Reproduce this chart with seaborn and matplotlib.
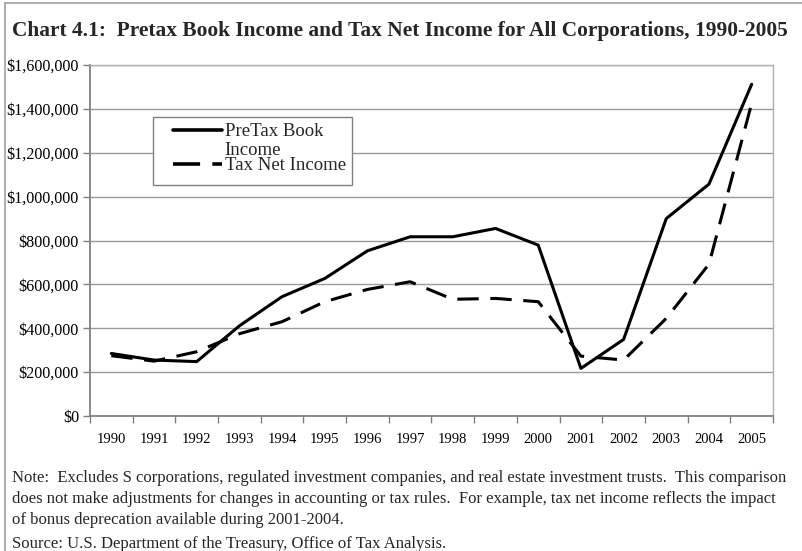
import matplotlib
matplotlib.use("Agg")
import matplotlib.pyplot as plt
from matplotlib.lines import Line2D
from matplotlib.patches import Rectangle
from matplotlib.legend_handler import HandlerLine2D
from matplotlib.ticker import FuncFormatter, FixedLocator, NullFormatter
import numpy as np
import seaborn as sns
import pandas as pd

years = [str(y) for y in range(1990, 2006)]
pretax_book_income = [285000, 255000, 248000, 411000, 544000, 627000, 753000, 817000,
                      817000, 855000, 779000, 217000, 349000, 900000, 1057000, 1512000]
tax_net_income = [275000, 250000, 293000, 375000, 430000, 521000, 577000, 612000,
                  532000, 536000, 521000, 273000, 255000, 445000, 692000, 1425000]
series_names = ["PreTax Book\nIncome", "Tax Net Income"]

df = pd.DataFrame({
    "pos": list(range(len(years))) * 2,
    "value": pretax_book_income + tax_net_income,
    "series": [series_names[0]] * len(years) + [series_names[1]] * len(years),
})

sns.set_theme(style="white")
plt.rcParams["font.family"] = ["Liberation Serif", "DejaVu Serif"]

W, H = 803, 551
AX_L, AX_R, AX_T, AX_B = 90, 773, 65, 416
fig = plt.figure(figsize=(W / 100, H / 100), dpi=100)
ax = fig.add_axes([AX_L / W, 1 - AX_B / H, (AX_R - AX_L) / W, (AX_B - AX_T) / H])


def ax_xy(px, py):
    """Pixel position in the figure -> axes fraction."""
    return (px - AX_L) / (AX_R - AX_L), (AX_B - py) / (AX_B - AX_T)


sns.lineplot(data=df, x="pos", y="value", hue="series", style="series",
             palette=["black", "black"],
             dashes={series_names[0]: "", series_names[1]: (7, 3.8)},
             linewidth=2.2, legend=False, ax=ax, zorder=3)

ax.set_xlim(-0.5, len(years) - 0.5)
ax.set_ylim(0, 1600000)
ax.set_yticks(range(0, 1600001, 200000))
ax.yaxis.set_major_formatter(FuncFormatter(lambda v, p: f"${int(v):,}"))
ax.grid(axis="y", color="#9a9a9a", linewidth=1.0, zorder=0)
ax.grid(axis="x", visible=False)

# category boundaries carry tick marks, labels sit between them
ax.xaxis.set_major_locator(FixedLocator([i - 0.5 for i in range(len(years) + 1)]))
ax.xaxis.set_major_formatter(NullFormatter())
ax.xaxis.set_minor_locator(FixedLocator(list(range(len(years)))))
ax.set_xticklabels(years, minor=True)
ax.tick_params(axis="x", which="major", direction="out", length=5, width=1,
               color="#808080", bottom=True)
ax.tick_params(axis="x", which="minor", length=0, pad=12, labelsize=10.5,
               labelcolor="black", bottom=True)
ax.tick_params(axis="y", direction="out", length=5, width=1, color="#808080",
               left=True, labelsize=11.6, labelcolor="black", pad=3)
ax.set_xlabel("")
ax.set_ylabel("")

for side in ["left", "bottom"]:
    ax.spines[side].set_color("#808080")
    ax.spines[side].set_linewidth(1.3)
for side in ["right", "top"]:
    ax.spines[side].set_color("#b0b0b0")
    ax.spines[side].set_linewidth(1.0)


class ShiftedLine(HandlerLine2D):
    """Legend line drawn at a vertical offset (points) within its handle box."""

    def __init__(self, dy=0.0, **kw):
        super().__init__(**kw)
        self.dy = dy

    def create_artists(self, legend, orig_handle, xdescent, ydescent, width,
                       height, fontsize, trans):
        artists = super().create_artists(legend, orig_handle, xdescent, ydescent,
                                         width, height, fontsize, trans)
        for a in artists:
            a.set_ydata(np.asarray(a.get_ydata(), dtype=float) + self.dy)
        return artists


# legend box
bx0, by0 = ax_xy(153, 185)
bx1, by1 = ax_xy(352, 117)
ax.add_patch(Rectangle((bx0, by0), bx1 - bx0, by1 - by0, transform=ax.transAxes,
                       facecolor="white", edgecolor="#808080", linewidth=1.0,
                       zorder=4, clip_on=False))

h_book = Line2D([], [], color="black", linewidth=2.6)
h_tax = Line2D([], [], color="black", linewidth=2.6, dashes=(7.5, 3.4))
leg = ax.legend([h_book, h_tax], series_names, loc="upper left",
                bbox_to_anchor=ax_xy(173, 123), frameon=False,
                fontsize=13.5, handlelength=2.6,
                handletextpad=0.15, labelspacing=-0.08, borderpad=0.0,
                borderaxespad=0,
                handler_map={h_book: ShiftedLine(dy=7.5), h_tax: ShiftedLine(dy=0.0)})
leg.get_texts()[0].set_linespacing(1.12)
leg.set_zorder(5)

fig.text(12 / W, 1 - 31 / H,
         "Chart 4.1:  Pretax Book Income and Tax Net Income for All Corporations, 1990-2005",
         fontsize=15.4, fontweight="bold", va="center", ha="left")

note = ("Note:  Excludes S corporations, regulated investment companies, and real estate investment trusts.  This comparison\n"
        "does not make adjustments for changes in accounting or tax rules.  For example, tax net income reflects the impact\n"
        "of bonus deprecation available during 2001-2004.")
fig.text(12 / W, 1 - 470 / H, note, fontsize=12, va="top", ha="left",
         linespacing=1.42)
fig.text(12 / W, 1 - 544 / H, "Source: U.S. Department of the Treasury, Office of Tax Analysis.",
         fontsize=12, va="center", ha="left")

# outer frame: top and left edges only
fig.add_artist(Line2D([5 / W, 5 / W], [0, 1 - 3 / H], transform=fig.transFigure,
                      color="#a0a0a0", linewidth=1.2))
fig.add_artist(Line2D([5 / W, 1], [1 - 3 / H, 1 - 3 / H], transform=fig.transFigure,
                      color="#a0a0a0", linewidth=1.2))

fig.savefig("out.png", dpi=100)
